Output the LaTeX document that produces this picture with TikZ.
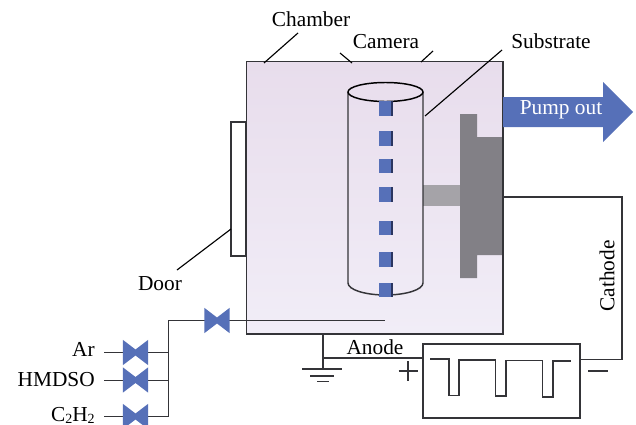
\documentclass[tikz,border=0pt]{standalone}
\usepackage{fontspec}
\setmainfont{Liberation Serif}
\definecolor{vblue}{HTML}{5670B8}
\definecolor{vdark}{HTML}{2A3560}
\definecolor{wire}{HTML}{343438}
\definecolor{cathgray}{HTML}{828086}
\definecolor{holdgray}{HTML}{A5A3A8}
\definecolor{chtop}{HTML}{E8DDEC}
\definecolor{chbot}{HTML}{F1EDF7}
\tikzset{
  wireline/.style={draw=wire,line width=1.1pt},
  thinline/.style={draw=black,line width=0.85pt},
  lbl/.style={inner sep=0pt,font=\fontsize{16}{18}\selectfont,text=black},
  sample/.style={minimum width=10.6pt,minimum height=10.8pt,inner sep=0pt,fill=vblue,
     path picture={\fill[vdark] (path picture bounding box.north east) ++(-1.5pt,0) rectangle (path picture bounding box.south east);}},
  bowtie/.pic={\fill[vblue] (-12.7,-12.7)--(0,-3)--(12.7,-12.7)--(12.7,12.7)--(0,3)--(-12.7,12.7)--cycle;},
}
\begin{document}
\begin{tikzpicture}[x=0.75pt,y=-0.75pt]
\useasboundingbox (0,0) rectangle (636,425);
% door, chamber
\node[draw=wire,line width=1.1pt,fill=white,minimum width=11.5pt,minimum height=100.5pt,inner sep=0pt] (door) at (238.5,189) {};
\node[draw=wire,line width=1.2pt,top color=chtop,bottom color=chbot,minimum width=192.4pt,minimum height=204.4pt,inner sep=0pt] (chamber) at (374.75,197.75) {};
% cathode assembly
\fill[holdgray] (423,185) rectangle (460,206);
\fill[cathgray] (460,114)--(477,114)--(477,137)--(503,137)--(503,255)--(477,255)--(477,278)--(460,278)--cycle;
\draw[wire,line width=1.2pt] (503,61.5)--(503,334);
% cylinder
\coordinate (cylTL) at (348,92);
\coordinate (cylTR) at (423,92);
\coordinate (cylBL) at (348,283);
\coordinate (cylBR) at (423,283);
\draw[wire,line width=1.1pt] (cylTL)--(cylBL) arc[start angle=180,end angle=0,x radius=37.5,y radius=12]--(cylTR);
\draw[black,line width=1.1pt] (385.5,92) ellipse[x radius=37.5,y radius=9.5];
% samples
\foreach \n/\yy in {1/108.5,2/138.5,3/166,4/194.5,5/228,6/259.5,7/290}
  \node[sample] (s\n) at (386,\yy) {};
% pump arrow
\fill[vblue] (503,97)--(603,97)--(603,82)--(633,112)--(603,142)--(603,127)--(503,127)--cycle;
\node[lbl,text=white] (pump) at (561,109.5) {Pump out};
% labels
\node[lbl] (lchamber) at (311,19.5) {Chamber};
\node[lbl] (lcamera) at (386,41.5) {Camera};
\node[lbl] (lsubstrate) at (551,41) {Substrate};
\node[lbl] (ldoor) at (160,284) {Door};
\node[lbl,anchor=east] (lar) at (95,349.5) {Ar};
\node[lbl,anchor=east] (lhmdso) at (95,380) {HMDSO};
\node[lbl,anchor=base east] (lcc) at (95,421.5) {C\raisebox{-1.8pt}{\fontsize{10.5}{11}\selectfont 2}H\raisebox{-1.8pt}{\fontsize{10.5}{11}\selectfont 2}};
\node[lbl] (lanode) at (375,347) {Anode};
\node[lbl,rotate=90] (lcathode) at (607,276) {Cathode};
% leaders
\coordinate (a1) at (298,33); \coordinate (a2) at (264,63);
\coordinate (b1) at (340,53); \coordinate (b2) at (352,63);
\coordinate (c1) at (433,51); \coordinate (c2) at (421,62);
\coordinate (d1) at (502,50); \coordinate (d2) at (425,116);
\coordinate (e1) at (231,229); \coordinate (e2) at (177,270);
\draw[thinline] (a1)--(a2);
\draw[thinline] (b1)--(b2);
\draw[thinline] (c1)--(c2);
\draw[thinline] (d1)--(d2);
\draw[thinline] (e1)--(e2);
% gas lines
\coordinate (g1) at (104,352.5); \coordinate (g2) at (104,380.5); \coordinate (g3) at (104,416.5);
\coordinate (bus1) at (168.5,352.5); \coordinate (bus2) at (168.5,380.5); \coordinate (bus3) at (168.5,416.5);
\coordinate (bustop) at (168.5,320.5); \coordinate (inlet) at (385,320.5);
\draw[wireline] (g1)--(bus1);
\draw[wireline] (g2)--(bus2);
\draw[wireline] (g3)--(bus3)--(bustop)--(inlet);
\pic at (217,320.5) {bowtie};
\pic at (135.5,352.5) {bowtie};
\pic at (135.5,380) {bowtie};
\pic at (135.5,416.5) {bowtie};
% power supply
\node[draw=wire,line width=1.1pt,fill=white,minimum width=117.5pt,minimum height=55.5pt,inner sep=0pt] (psu) at (501.5,381) {};
\coordinate (gnd) at (323,334);
\coordinate (gnd2) at (323,369);
\coordinate (an) at (323,358);
\coordinate (an2) at (423,358);
\draw[wireline] (gnd)--(gnd2);
\draw[wireline] (an)--(an2);
\draw[wireline] (302,369)--(342,369);
\draw[wireline] (310,376)--(334,376);
\draw[wireline] (317,381.5)--(329,381.5);
\coordinate (ca1) at (580,359.5); \coordinate (ca2) at (622,359.5); \coordinate (ca3) at (622,197); \coordinate (ca4) at (503,197);
\draw[wireline] (ca1)--(ca2)--(ca3)--(ca4);
% waveform
\draw[wireline,line join=miter] (430,359)--(449,359)--(449,395.5)--(459,395.5)--(459,360)--(495.5,360)--(495.5,396)--(506,396)--(506,360.5)--(542.5,360.5)--(542.5,397)--(553,397)--(553,361)--(570.5,361);
% signs
\draw[wireline,line width=0.85pt] (398.5,371)--(418,371);
\draw[wireline,line width=0.85pt] (408,361)--(408,380.5);
\draw[wireline,line width=0.85pt] (588,371)--(607.5,371);
\end{tikzpicture}
\end{document}
